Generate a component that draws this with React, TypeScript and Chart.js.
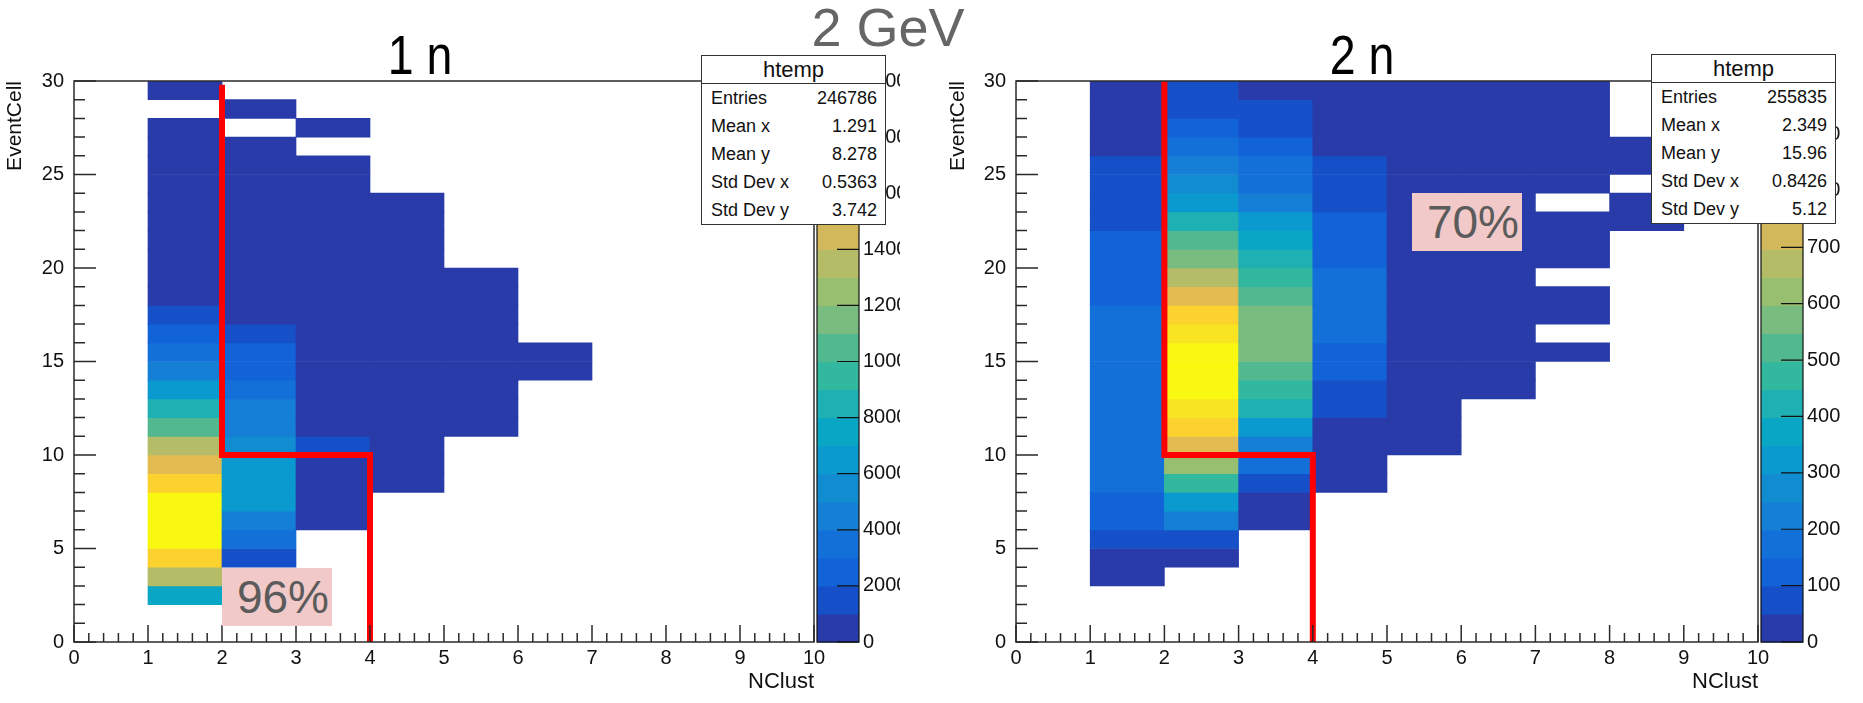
import React, { useEffect, useRef } from "react";
import { Chart, registerables } from "chart.js";

Chart.register(...registerables);

const FONT = '"Liberation Sans", Arial, Helvetica, sans-serif';

// ---------------- data ----------------
// lower edges of the NClust bins that hold entries
const nClustLow1n = [1, 2, 3, 4, 5, 6];
const nClustLow2n = [1, 2, 3, 4, 5, 6, 7, 8];

// counts per EventCell bin (index = lower edge of the bin, 0..29)
const oneN_c1 = [0, 0, 7500, 13500, 17500, 19500, 19800, 19300, 17600, 15400, 13400, 10400, 8400, 6600, 4600, 3500, 2500, 1500, 900, 800, 700, 600, 500, 400, 300, 250, 200, 150, 0, 40];
const oneN_c2 = [0, 0, 0, 0, 1500, 3200, 4000, 6300, 6600, 6400, 5600, 4700, 4400, 3600, 2700, 2200, 1500, 900, 800, 700, 600, 500, 400, 320, 260, 200, 150, 0, 30, 0];
const oneN_c3 = [0, 0, 0, 0, 0, 0, 500, 700, 850, 900, 1300, 850, 800, 700, 650, 600, 500, 450, 400, 350, 300, 250, 200, 160, 120, 90, 0, 40, 0, 0];
const oneN_c4 = [0, 0, 0, 0, 0, 0, 0, 0, 150, 250, 300, 320, 300, 280, 250, 220, 200, 170, 140, 110, 90, 70, 50, 30, 0, 0, 0, 0, 0, 0];
const oneN_c5 = [0, 0, 0, 0, 0, 0, 0, 0, 0, 0, 0, 40, 50, 55, 50, 45, 40, 30, 20, 15, 0, 0, 0, 0, 0, 0, 0, 0, 0, 0];
const oneN_c6 = [0, 0, 0, 0, 0, 0, 0, 0, 0, 0, 0, 0, 0, 0, 10, 8, 0, 0, 0, 0, 0, 0, 0, 0, 0, 0, 0, 0, 0, 0];

const twoN_c1 = [0, 0, 0, 30, 35, 80, 125, 130, 180, 185, 190, 190, 185, 185, 180, 180, 175, 170, 130, 125, 120, 115, 80, 75, 70, 65, 40, 35, 30, 25];
const twoN_c2 = [0, 0, 0, 0, 30, 80, 230, 330, 470, 630, 760, 870, 920, 970, 975, 970, 920, 870, 770, 670, 570, 520, 420, 320, 270, 220, 180, 125, 80, 75];
const twoN_c3 = [0, 0, 0, 0, 0, 0, 30, 35, 80, 180, 230, 320, 420, 470, 530, 580, 585, 575, 520, 470, 420, 370, 320, 220, 175, 165, 125, 85, 75, 30];
const twoN_c4 = [0, 0, 0, 0, 0, 0, 0, 0, 30, 35, 40, 40, 80, 85, 130, 135, 185, 190, 185, 180, 135, 130, 125, 90, 80, 75, 40, 35, 30, 25];
const twoN_c5 = [0, 0, 0, 0, 0, 0, 0, 0, 0, 0, 30, 35, 40, 40, 40, 40, 35, 35, 30, 30, 30, 25, 25, 25, 20, 20, 20, 15, 15, 10];
const twoN_c6 = [0, 0, 0, 0, 0, 0, 0, 0, 0, 0, 0, 0, 0, 10, 15, 20, 20, 20, 20, 18, 15, 15, 12, 12, 10, 10, 8, 8, 6, 5];
const twoN_c7 = [0, 0, 0, 0, 0, 0, 0, 0, 0, 0, 0, 0, 0, 0, 0, 4, 0, 5, 6, 0, 6, 7, 7, 0, 8, 8, 7, 6, 5, 4];
const twoN_c8 = [0, 0, 0, 0, 0, 0, 0, 0, 0, 0, 0, 0, 0, 0, 0, 0, 0, 0, 0, 0, 0, 0, 3, 3, 0, 3, 2, 0, 0, 0];

// red selection cut
const cutX = [2, 2, 4, 4];
const cutY1n = [29.8, 10, 10, 0];
const cutY2n = [30, 10, 10, 0];

// stats boxes
const statLabels = ["Entries", "Mean x", "Mean y", "Std Dev x", "Std Dev y"];
const stats1n = ["246786", "1.291", "8.278", "0.5363", "3.742"];
const stats2n = ["255835", "2.349", "15.96", "0.8426", "5.12"];

// colour scale (z) ranges and tick labels
const zMax1n = 20000;
const zTicks1n = [0, 2000, 4000, 6000, 8000, 10000, 12000, 14000, 16000, 18000, 20000];
const zMax2n = 995;
const zTicks2n = [0, 100, 200, 300, 400, 500, 600, 700, 800, 900];

// ---------------- style ----------------
const PALETTE = [
  "#283ba8", "#1650c8", "#1262d8", "#1270d8", "#157fd5",
  "#128cd0", "#0a9ad0", "#0aa6c6", "#1eb0b2", "#33b8a0",
  "#52b890", "#78bc80", "#98be70", "#b5bc68", "#d2b85a",
  "#e2bc50", "#f2c840", "#fcd22e", "#f8e420", "#f8f810",
];

function colorFor(v: number, zMax: number) {
  const k = Math.floor((v / zMax) * PALETTE.length);
  return PALETTE[Math.max(0, Math.min(PALETTE.length - 1, k))];
}

function buildCells(lows: number[], cols: number[][]) {
  const out: any[] = [];
  cols.forEach((col, j) => {
    col.forEach((v, i) => {
      if (v > 0) out.push({ x: lows[j] + 0.5, y: [i, i + 1], v });
    });
  });
  return out;
}

const rootDecor = {
  id: "rootDecor",
  afterDatasetsDraw(chart: any, _args: any, opts: any) {
    const { ctx, chartArea: a, scales } = chart;
    const xs = scales.x;
    const ys = scales.y;
    const zs = scales.z;
    ctx.save();
    ctx.strokeStyle = "#2a2a2a";
    ctx.lineWidth = 1.5;
    ctx.beginPath();
    for (let k = 0; k <= 50; k++) {
      const px = xs.getPixelForValue(k / 5);
      const len = k % 5 === 0 ? 17 : 9;
      ctx.moveTo(px, a.bottom);
      ctx.lineTo(px, a.bottom - len);
    }
    for (let k = 0; k <= 30; k++) {
      const py = ys.getPixelForValue(k);
      const len = k % 5 === 0 ? 22 : 11;
      ctx.moveTo(a.left, py);
      ctx.lineTo(a.left + len, py);
    }
    ctx.stroke();
    ctx.strokeRect(a.left, a.top, a.right - a.left, a.bottom - a.top);

    // colour bar
    const bx = a.right + opts.gap;
    const bw = opts.width;
    const n = PALETTE.length;
    for (let k = 0; k < n; k++) {
      const y0 = zs.getPixelForValue((k * opts.zMax) / n);
      const y1 = zs.getPixelForValue(((k + 1) * opts.zMax) / n);
      ctx.fillStyle = PALETTE[k];
      ctx.fillRect(bx, y1, bw, y0 - y1 + 0.6);
    }
    ctx.strokeStyle = "#111";
    ctx.lineWidth = 1.2;
    ctx.strokeRect(bx, a.top, bw, a.bottom - a.top);
    ctx.beginPath();
    zs.ticks.forEach((t: any) => {
      const py = zs.getPixelForValue(t.value);
      ctx.moveTo(bx + bw - 22, py);
      ctx.lineTo(bx + bw, py);
    });
    ctx.stroke();
    ctx.restore();
  },
};

type PanelSpec = {
  left: number;
  width: number;
  yAxisW: number;
  zAxisW: number;
  yTitlePad: number;
  cells: any[];
  cutY: number[];
  zMax: number;
  zTicks: number[];
};

function makeConfig(p: PanelSpec): any {
  const tickFont = { size: 20, family: FONT };
  return {
    type: "bar",
    data: {
      datasets: [
        {
          type: "line",
          data: cutX.map((x, i) => ({ x, y: p.cutY[i] })),
          borderColor: "#ff0000",
          borderWidth: 6,
          pointRadius: 0,
          fill: false,
          tension: 0,
          borderJoinStyle: "miter",
          borderCapStyle: "butt",
          xAxisID: "x",
          yAxisID: "y",
          order: 0,
        },
        {
          type: "bar",
          data: p.cells,
          backgroundColor: (c: any) => colorFor(c.raw ? c.raw.v : 0, p.zMax),
          borderWidth: 0,
          barPercentage: 1,
          categoryPercentage: 1,
          grouped: false,
          xAxisID: "x",
          yAxisID: "y",
          order: 1,
        },
      ],
    },
    options: {
      responsive: false,
      animation: false,
      devicePixelRatio: 1,
      events: [],
      layout: { padding: { top: 81, left: 0, right: 0, bottom: 0 } },
      plugins: {
        legend: { display: false },
        tooltip: { enabled: false },
        title: { display: false },
        rootDecor: { gap: 3, width: 42, zMax: p.zMax },
      },
      scales: {
        x: {
          type: "linear",
          position: "bottom",
          min: 0,
          max: 10,
          offset: false,
          grid: { display: false, drawTicks: false, offset: false },
          border: { display: false },
          ticks: {
            stepSize: 1,
            padding: 4,
            font: tickFont,
            color: "#111",
            maxRotation: 0,
            autoSkip: false,
            callback: (v: any) => String(v),
          },
          title: {
            display: true,
            text: "NClust",
            align: "end",
            color: "#111",
            font: { size: 22, family: FONT },
            padding: { top: 0, bottom: 3 },
          },
          afterFit: (s: any) => {
            s.height = 56;
          },
        },
        y: {
          type: "linear",
          position: "left",
          min: 0,
          max: 30,
          grid: { display: false, drawTicks: false },
          border: { display: false },
          ticks: {
            stepSize: 5,
            padding: 10,
            font: tickFont,
            color: "#111",
            callback: (v: any) => String(v),
          },
          title: {
            display: true,
            text: "EventCell",
            align: "end",
            color: "#111",
            font: { size: 21, family: FONT },
            padding: { top: p.yTitlePad, bottom: 0 },
          },
          afterFit: (s: any) => {
            s.width = p.yAxisW;
          },
        },
        z: {
          type: "linear",
          position: "right",
          min: 0,
          max: p.zMax,
          grid: { display: false, drawTicks: false },
          border: { display: false },
          afterBuildTicks: (s: any) => {
            s.ticks = p.zTicks.map((v) => ({ value: v }));
          },
          ticks: {
            padding: 49,
            autoSkip: false,
            font: { size: 20, family: FONT },
            color: "#111",
            callback: (v: any) => String(v),
          },
          afterFit: (s: any) => {
            s.width = p.zAxisW;
          },
        },
      },
    },
    plugins: [rootDecor],
  };
}

function Panel({ spec }: { spec: PanelSpec }) {
  const ref = useRef<HTMLCanvasElement>(null);
  useEffect(() => {
    const chart = new Chart(ref.current as HTMLCanvasElement, makeConfig(spec));
    return () => chart.destroy();
  }, []);
  return (
    <canvas
      ref={ref}
      width={spec.width}
      height={703}
      style={{ position: "absolute", left: spec.left, top: 0, width: spec.width, height: 703 }}
    />
  );
}

function StatsBox({ left, top, values }: { left: number; top: number; values: string[] }) {
  return (
    <div
      style={{
        position: "absolute",
        left,
        top,
        width: 185,
        height: 170,
        boxSizing: "border-box",
        border: "1.5px solid #333",
        background: "#fff",
        fontFamily: FONT,
        color: "#111",
      }}
    >
      <div
        style={{
          height: 28,
          boxSizing: "border-box",
          borderBottom: "1.5px solid #333",
          textAlign: "center",
          fontSize: 22,
          lineHeight: "27px",
        }}
      >
        htemp
      </div>
      {statLabels.map((l, i) => (
        <div
          key={l}
          style={{
            height: 28,
            display: "flex",
            justifyContent: "space-between",
            alignItems: "center",
            padding: "0 8px 0 9px",
            fontSize: 18,
          }}
        >
          <span>{l}</span>
          <span>{values[i]}</span>
        </div>
      ))}
    </div>
  );
}

function PctBox({ left, top, text }: { left: number; top: number; text: string }) {
  return (
    <div
      style={{
        position: "absolute",
        left,
        top,
        width: 110,
        height: 58,
        background: "#f2c9c9",
        color: "#5b5b5b",
        fontFamily: FONT,
        fontSize: 46,
        display: "flex",
        alignItems: "center",
        justifyContent: "flex-end",
        paddingRight: 3,
        boxSizing: "border-box",
      }}
    >
      {text}
    </div>
  );
}

function Title({ cx, top, text, size, color, sx }: { cx: number; top: number; text: string; size: number; color: string; sx: number }) {
  return (
    <div
      style={{
        position: "absolute",
        left: cx,
        top,
        transform: `translateX(-50%) scaleX(${sx})`,
        fontFamily: FONT,
        fontSize: size,
        lineHeight: `${size}px`,
        color,
        whiteSpace: "nowrap",
      }}
    >
      {text}
    </div>
  );
}

export default function App() {
  const left: PanelSpec = {
    left: 0,
    width: 900,
    yAxisW: 74,
    zAxisW: 86,
    yTitlePad: 3,
    cells: buildCells(nClustLow1n, [oneN_c1, oneN_c2, oneN_c3, oneN_c4, oneN_c5, oneN_c6]),
    cutY: cutY1n,
    zMax: zMax1n,
    zTicks: zTicks1n,
  };
  const right: PanelSpec = {
    left: 900,
    width: 963,
    yAxisW: 116,
    zAxisW: 105,
    yTitlePad: 46,
    cells: buildCells(nClustLow2n, [twoN_c1, twoN_c2, twoN_c3, twoN_c4, twoN_c5, twoN_c6, twoN_c7, twoN_c8]),
    cutY: cutY2n,
    zMax: zMax2n,
    zTicks: zTicks2n,
  };
  return (
    <div style={{ position: "fixed", left: 0, top: 0, width: 1863, height: 703, background: "#fff", overflow: "hidden" }}>
      <Panel spec={left} />
      <Panel spec={right} />
      <StatsBox left={701} top={55} values={stats1n} />
      <StatsBox left={1651} top={54} values={stats2n} />
      <PctBox left={222} top={568} text="96%" />
      <PctBox left={1412} top={193} text="70%" />
      <Title cx={420} top={27} text="1 n" size={56} color="#000" sx={0.83} />
      <Title cx={1362} top={27} text="2 n" size={56} color="#000" sx={0.83} />
      <Title cx={888} top={0} text="2 GeV" size={54} color="#666" sx={1} />
    </div>
  );
}
